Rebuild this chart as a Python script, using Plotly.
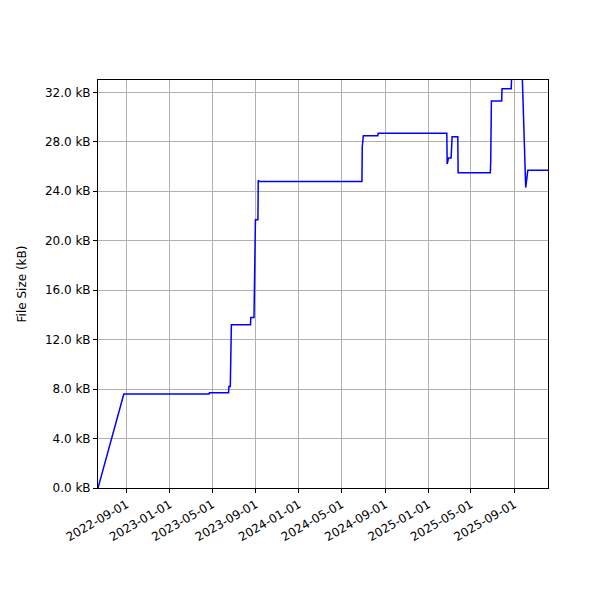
import plotly.graph_objects as go

dates = ["2022-06-12","2022-08-24","2023-04-22","2023-04-23","2023-06-16","2023-06-17","2023-06-21","2023-06-22",
         "2023-06-24","2023-08-17","2023-08-18","2023-08-27","2023-08-28","2023-08-31","2023-09-07","2023-09-08",
         "2023-09-10","2024-06-27","2024-06-28","2024-07-01","2024-08-11","2024-08-12","2025-02-22","2025-02-23",
         "2025-02-27","2025-03-06","2025-03-09","2025-03-25","2025-03-26","2025-06-25","2025-06-26","2025-06-28",
         "2025-07-27","2025-07-28","2025-08-23","2025-08-25","2025-09-22","2025-10-03","2025-10-09","2025-12-05"]
sizes_kb = [0,7.6,7.6,7.7,7.7,8.2,8.2,9.8,13.2,13.2,13.8,13.8,17.5,21.7,21.7,24.9,24.8,24.8,27.6,28.5,28.5,28.7,28.7,26.2,
            26.7,26.7,28.4,28.4,25.5,25.5,26.3,31.3,31.3,32.3,32.3,34.0,34.5,24.3,25.7,25.7]
tick_dates = ["2022-09-01","2023-01-01","2023-05-01","2023-09-01","2024-01-01","2024-05-01","2024-09-01","2025-01-01","2025-05-01","2025-09-01"]
y_ticks = [0,4,8,12,16,20,24,28,32]

fig = go.Figure(go.Scatter(x=dates, y=sizes_kb, mode="lines", line=dict(color="blue", width=1.5), line_shape="linear"))
fig.update_layout(width=600, height=600, plot_bgcolor="white", paper_bgcolor="white",
                  margin=dict(l=90, r=60, t=72, b=120, autoexpand=False), showlegend=False,
                  font=dict(family="DejaVu Sans", size=12, color="black"))
fig.update_xaxes(range=["2022-06-12","2025-12-05"], tickvals=tick_dates, ticktext=tick_dates, tickangle=-30,
                 showgrid=True, gridcolor="#b0b0b0", showline=True, linecolor="black", mirror=True,
                 ticks="outside", ticklen=4, tickcolor="black", automargin=False)
fig.update_yaxes(range=[0,33], tickvals=y_ticks, ticktext=[f"{v:.1f} kB" for v in y_ticks],
                 title=dict(text="File Size (kB)", font=dict(size=12)),
                 showgrid=True, gridcolor="#b0b0b0", showline=True, linecolor="black", mirror=True,
                 ticks="outside", ticklen=4, tickcolor="black", zeroline=False, automargin=False)
fig.write_html("out.html")
